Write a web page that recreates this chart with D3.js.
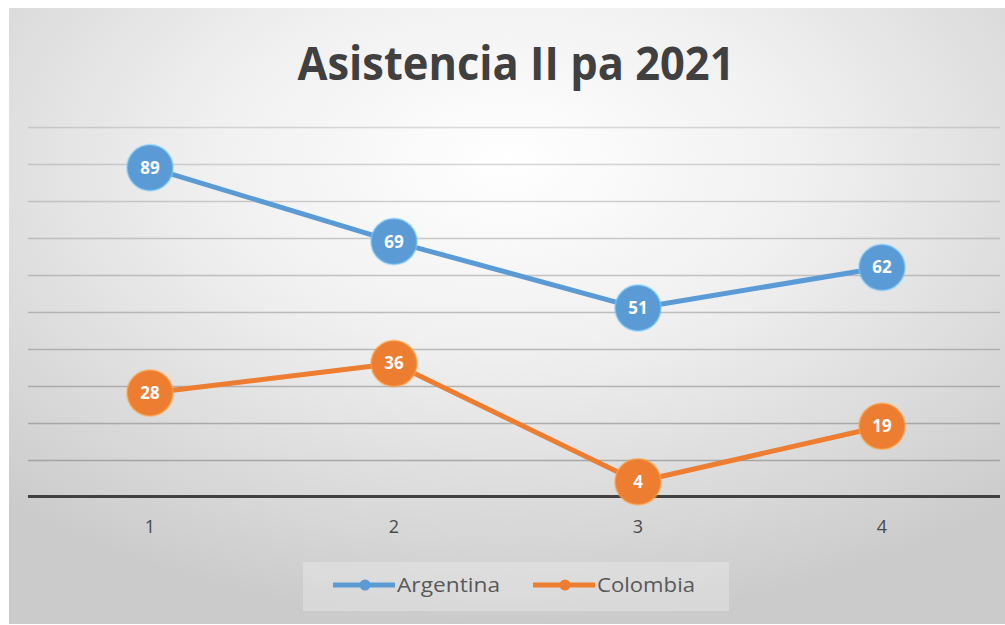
<!DOCTYPE html>
<html lang="en">
<head>
<meta charset="utf-8">
<title>Asistencia II pa 2021</title>
<script src="https://d3js.org/d3.v7.min.js"></script>
<style>
  body { margin: 0; background: #fff; }
  svg { display: block; }
  .label { font-family: "Open Sans", "DejaVu Sans", sans-serif; }
</style>
</head>
<body>
<div id="chart"></div>
<script>
// data
var categories = ["1", "2", "3", "4"];
var argentina = [89, 69, 51, 62];
var colombia = [28, 36, 4, 19];
var seriesNames = ["Argentina", "Colombia"];
var seriesColors = ["#5b9bd5", "#ed7d31"];
var yTicks = [0, 10, 20, 30, 40, 50, 60, 70, 80, 90, 100];

var w = 1005, h = 625;

var svg = d3.select("#chart").append("svg")
    .attr("width", w)
    .attr("height", h);

// background gradient
var defs = svg.append("defs");
var grad = defs.append("radialGradient")
    .attr("id", "bg")
    .attr("cx", "50%").attr("cy", "25%")
    .attr("r", "75%");
grad.append("stop").attr("offset", "0%").attr("stop-color", "#ffffff");
grad.append("stop").attr("offset", "40%").attr("stop-color", "#f0f0f0");
grad.append("stop").attr("offset", "100%").attr("stop-color", "#cbcbcb");

svg.append("rect")
    .attr("x", 9).attr("y", 8)
    .attr("width", w - 9).attr("height", h - 9)
    .attr("fill", "url(#bg)");

var xScale = d3.scaleBand()
    .domain(categories)
    .range([28, 1004])
    .padding(0);

var yScale = d3.scaleLinear()
    .domain([0, 100])
    .range([496.5, 127]);

function xc(i) { return xScale(categories[i]) + xScale.bandwidth() / 2; }

// gridlines
svg.append("g")
    .selectAll("line")
    .data(yTicks.slice(1))
    .enter().append("line")
    .attr("x1", 28).attr("x2", 1000)
    .attr("y1", function (d) { return Math.round(yScale(d)) + 0.5; })
    .attr("y2", function (d) { return Math.round(yScale(d)) + 0.5; })
    .attr("stroke", "#8a8a8a")
    .attr("stroke-opacity", function (d) { return 0.3 + (100 - d) / 100 * 0.4; })
    .attr("stroke-width", 1.5);

// x axis line
svg.append("line")
    .attr("x1", 28).attr("x2", 1000)
    .attr("y1", yScale(0)).attr("y2", yScale(0))
    .attr("stroke", "#404040")
    .attr("stroke-width", 3);

// x axis labels
var xAxis = d3.axisBottom(xScale).tickSize(0).tickPadding(0);
var gx = svg.append("g")
    .attr("transform", "translate(0," + (yScale(0) + 24) + ")")
    .call(xAxis);
gx.select(".domain").remove();
gx.selectAll("text")
    .attr("class", "label")
    .attr("font-size", "18px")
    .attr("fill", "#4a4a4a");

// lines + markers
var allSeries = [argentina, colombia];
var line = d3.line()
    .x(function (d, i) { return xc(i); })
    .y(function (d) { return yScale(d); });

allSeries.forEach(function (vals, s) {
    svg.append("path")
        .datum(vals)
        .attr("d", line)
        .attr("fill", "none")
        .attr("stroke", seriesColors[s])
        .attr("stroke-width", 5)
        .attr("stroke-linejoin", "round");

    var g = svg.append("g");
    g.selectAll("circle")
        .data(vals)
        .enter().append("circle")
        .attr("cx", function (d, i) { return xc(i); })
        .attr("cy", function (d) { return yScale(d); })
        .attr("r", 23)
        .attr("fill", seriesColors[s])
        .attr("stroke", d3.color(seriesColors[s]).brighter(0.8))
        .attr("stroke-opacity", 0.5)
        .attr("stroke-width", 2);
    g.selectAll("text")
        .data(vals)
        .enter().append("text")
        .attr("class", "label")
        .attr("x", function (d, i) { return xc(i); })
        .attr("y", function (d) { return yScale(d) + 6; })
        .attr("text-anchor", "middle")
        .attr("font-size", "17px")
        .attr("font-weight", "bold")
        .attr("fill", "#ffffff")
        .text(function (d) { return d; });
});

// title
svg.append("text")
    .attr("class", "label")
    .attr("x", 516)
    .attr("y", 80)
    .attr("text-anchor", "middle")
    .attr("font-size", "46px")
    .attr("font-weight", "bold")
    .attr("fill", "#404040")
    .attr("textLength", 437)
    .attr("lengthAdjust", "spacingAndGlyphs")
    .text("Asistencia II pa 2021");

// legend
var legend = svg.append("g");
legend.append("rect")
    .attr("x", 303).attr("y", 562)
    .attr("width", 426).attr("height", 49)
    .attr("fill", "#ffffff")
    .attr("fill-opacity", 0.25);

var legendX = [333, 533];
seriesNames.forEach(function (name, i) {
    var lg = legend.append("g");
    lg.append("line")
        .attr("x1", legendX[i]).attr("x2", legendX[i] + 62)
        .attr("y1", 585).attr("y2", 585)
        .attr("stroke", seriesColors[i])
        .attr("stroke-width", 5);
    lg.append("circle")
        .attr("cx", legendX[i] + 32).attr("cy", 585)
        .attr("r", 5.5)
        .attr("fill", seriesColors[i]);
    lg.append("text")
        .attr("class", "label")
        .attr("x", legendX[i] + 64)
        .attr("y", 592)
        .attr("font-size", "20px")
        .attr("fill", "#595959")
        .attr("textLength", i === 0 ? 103 : 98)
        .attr("lengthAdjust", "spacingAndGlyphs")
        .text(name);
});
</script>
</body>
</html>
